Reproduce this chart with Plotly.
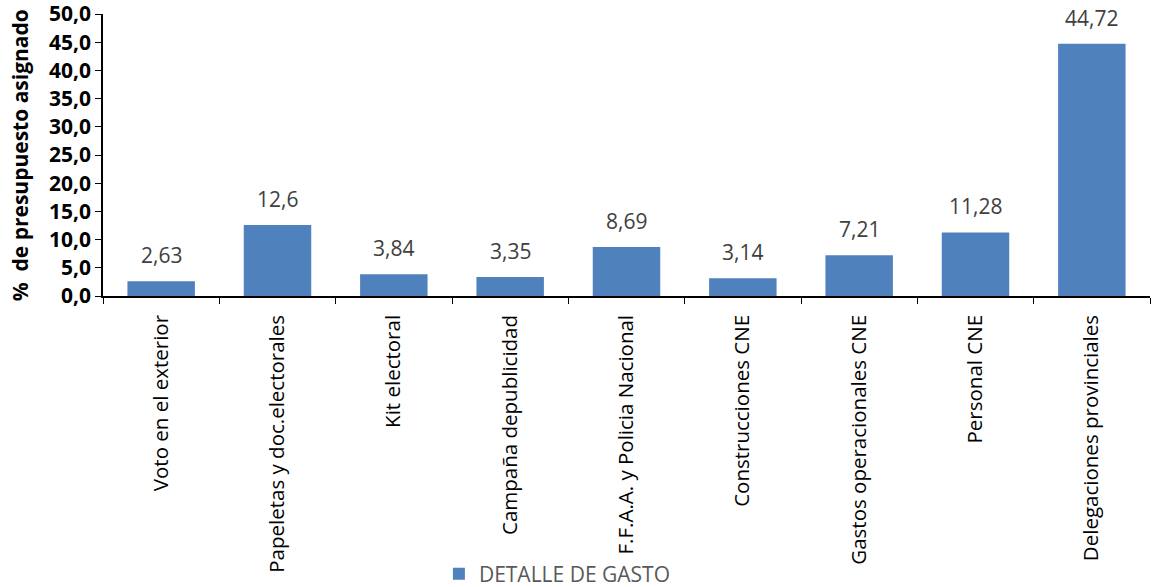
import plotly.graph_objects as go

categories = ["Voto en el exterior", "Papeletas y doc.electorales", "Kit electoral",
              "Campaña depublicidad", "F.F.A.A. y Policia Nacional", "Construcciones CNE",
              "Gastos operacionales CNE", "Personal CNE", "Delegaciones provinciales"]
values = [2.63, 12.6, 3.84, 3.35, 8.69, 3.14, 7.21, 11.28, 44.72]
series_name = "DETALLE DE GASTO"
y_title = "%  de presupuesto asignado"

FONT = "Open Sans, Liberation Sans, sans-serif"
fig = go.Figure()
fig.add_trace(go.Bar(x=categories, y=values, name=series_name,
                     marker=dict(color="#4F81BD", line=dict(width=0)),
                     showlegend=True))
for c, v in zip(categories, values):
    fig.add_annotation(x=c, y=v, text=str(v).replace(".", ","), showarrow=False,
                       yanchor="bottom", yshift=10,
                       font=dict(family=FONT, size=21, color="#404040"))

fig.add_annotation(xref="paper", yref="paper", x=-0.079, y=0.5, text="<b>" + y_title + "</b>",
                   textangle=-90, showarrow=False, xanchor="center", yanchor="middle",
                   font=dict(size=21, color="black", family=FONT))

fig.update_layout(
    width=1153, height=587,
    margin=dict(l=103, r=3, t=14, b=291),
    plot_bgcolor="white", paper_bgcolor="white",
    bargap=0.42,
    separators=",.",
    font=dict(family=FONT),
    legend=dict(orientation="h", x=0.434, xanchor="center", bgcolor="rgba(0,0,0,0)",
                yref="container", y=0.022, yanchor="middle",
                font=dict(size=21, color="#595959", family=FONT)),
    xaxis=dict(showline=True, linecolor="black", linewidth=1.5, automargin=False,
               ticks="outside", tickson="boundaries", ticklen=6, tickcolor="black",
               tickangle=-90, ticklabelstandoff=9,
               tickfont=dict(size=20.5, color="black", family=FONT),
               showgrid=False),
    yaxis=dict(range=[0, 50], dtick=5, tickformat=".1f", showline=True, linecolor="black",
               linewidth=1.5, ticks="outside", ticklen=6, tickcolor="black",
               showgrid=False, zeroline=False, automargin=False,
               ticklabeloverflow="allow",
               tickfont=dict(size=21, color="black", family=FONT)),
)
fig.update_yaxes(tickprefix="<b>", ticksuffix="</b>")
fig.write_html("out.html", config={"displayModeBar": False},
               post_script=("document.documentElement.style.margin='0';"
                            "document.documentElement.style.padding='0';"
                            "document.documentElement.style.overflow='hidden';"
                            "document.body.style.margin='0';"
                            "document.body.style.padding='0';"
                            "document.body.style.overflow='hidden';"
                            "document.body.style.height='587px';"
                            "document.documentElement.style.height='587px';"))
